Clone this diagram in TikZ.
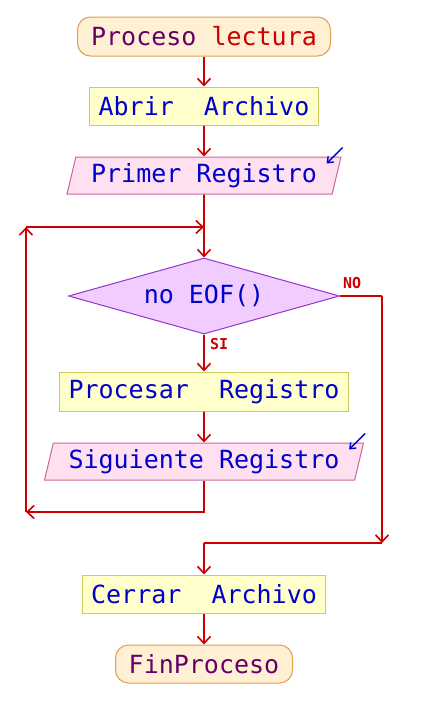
\documentclass[tikz,border=0pt]{standalone}
\usepackage{fontspec}
\setmonofont{DejaVu Sans Mono}
\newfontfamily\etiqfont{DejaVu Sans Mono}
\usetikzlibrary{shapes.geometric,arrows.meta}
\definecolor{flecha}{RGB}{204,0,0}
\definecolor{azul}{RGB}{0,0,204}
\definecolor{morado}{RGB}{102,0,102}
\definecolor{fondoterm}{RGB}{255,240,212}
\definecolor{bordeterm}{RGB}{222,160,80}
\definecolor{fondoproc}{RGB}{255,255,204}
\definecolor{bordeproc}{RGB}{204,204,90}
\definecolor{fondolect}{RGB}{255,224,240}
\definecolor{bordelect}{RGB}{204,102,153}
\definecolor{fondodec}{RGB}{240,204,255}
\definecolor{bordedec}{RGB}{153,51,204}

\begin{document}
\begin{tikzpicture}[x=1pt,y=-1pt,
	txt/.style={font=\ttfamily\fontsize{25}{30}\selectfont,text=azul,inner sep=0pt,line width=1pt},
	terminal/.style={txt,text=morado,draw=bordeterm,fill=fondoterm,rounded corners=13pt},
	proceso/.style={txt,draw=bordeproc,fill=fondoproc},
	lectura/.style={txt,trapezium,trapezium left angle=70,trapezium right angle=110,trapezium stretches body=true,draw=bordelect,fill=fondolect},
	decision/.style={txt,diamond,aspect=3.6,draw=bordedec,fill=fondodec},
	flujo/.style={draw=flecha,line width=1.6pt},
	sig/.style={flujo,-{Straight Barb[length=7pt,width=13pt]}},
	marca/.style={draw=azul,line width=1.4pt,-{Straight Barb[length=5pt,width=8pt]}},
	etiq/.style={font=\etiqfont\bfseries\fontsize{15}{15}\selectfont,text=flecha,inner sep=0pt}]
	\useasboundingbox (0,0) rectangle (436,712);

	\node[terminal,minimum width=253,minimum height=39] (ini) at (204,36.5) {Proceso {\color{flecha}lectura}};
	\node[proceso,minimum width=229,minimum height=38] (abrir) at (204,106) {Abrir\ \ Archivo};
	\node[lectura,minimum width=274,minimum height=37] (primer) at (204,175.5) {Primer Registro};
	\node[decision,minimum width=271,minimum height=76] (cond) at (204,296) {no EOF()};
	\node[proceso,minimum width=289,minimum height=39] (procesar) at (204,391.5) {Procesar\ \ Registro};
	\node[lectura,minimum width=319,minimum height=37] (siguiente) at (204,461.5) {Siguiente Registro};
	\node[proceso,minimum width=243,minimum height=38] (cerrar) at (204,594) {Cerrar\ \ Archivo};
	\node[terminal,minimum width=177,minimum height=38] (fin) at (204,664) {FinProceso};

	\coordinate (union) at (204,227);
	\coordinate (izqarr) at (26,227);
	\coordinate (izqab) at (26,512);
	\coordinate (derarr) at (382,296);
	\coordinate (derab) at (382,543);
	\coordinate (cruce) at (204,543);

	\foreach \a/\b in {ini/abrir,abrir/primer,primer/cond,cond/procesar,procesar/siguiente,cerrar/fin}{
		\draw[sig] (\a.south) -- (\b.north);
	}

	\draw[sig] (siguiente.south) |- (izqab);
	\draw[sig] (izqab) -- (izqarr);
	\draw[sig] (izqarr) -- (union);

	\draw[flujo] (cond.east) -- (derarr);
	\draw[sig] (derarr) -- (derab);
	\draw[flujo] (derab) -- (cruce);
	\draw[sig] (cruce) -- (cerrar.north);

	\node[etiq,anchor=south west] (no) at (343,289) {NO};
	\node[etiq,anchor=north west] (si) at (210,338) {SI};

	\draw[marca] ([xshift=1pt,yshift=9pt]primer.top right corner) -- ([xshift=-15pt,yshift=-7pt]primer.top right corner);
	\draw[marca] ([xshift=1pt,yshift=9pt]siguiente.top right corner) -- ([xshift=-15pt,yshift=-7pt]siguiente.top right corner);
\end{tikzpicture}
\end{document}
